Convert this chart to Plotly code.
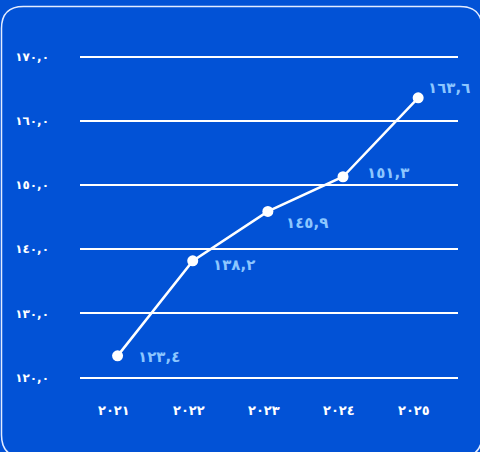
import plotly.graph_objects as go

years = ["2021", "2022", "2023", "2024", "2025"]
values = [123.4, 138.2, 145.9, 151.3, 163.6]
y_ticks = [120, 130, 140, 150, 160, 170]

AR = str.maketrans("0123456789", "٠١٢٣٤٥٦٧٨٩")
def ar(s):
    return s.translate(AR)

year_labels = [ar(y) for y in years]
value_labels = [ar(f"{v:.1f}").replace(".", ",") for v in values]
ytick_text = [ar(f"{v:.1f}").replace(".", ",") for v in y_ticks]

# label placement style (pixel offsets)
label_dx = [18, 18, 16, 22, 8]
label_dy = [-1, -4, -12, 4, 10]

W, H = 480, 452
ML, MR, MT, MB = 80, 22, 40, 56
PW, PH = W - ML - MR, H - MT - MB
BLUE = "#0252D6"
PXU = 6.41
Y170, Y120 = 56.7, 377.7

fig = go.Figure()
fig.add_trace(go.Scatter(
    x=list(range(len(years))), y=values, mode="lines+markers",
    line=dict(color="white", width=2.5),
    marker=dict(color="white", size=11),
    hoverinfo="skip", showlegend=False,
))

for i, (v, t) in enumerate(zip(values, value_labels)):
    fig.add_annotation(x=i, y=v, text=t, showarrow=False, xanchor="left",
                       yanchor="middle", xshift=label_dx[i], yshift=label_dy[i],
                       font=dict(color="#8CC6FF", size=15, family="DejaVu Sans",
                                 weight="bold"))

for i, t in enumerate(year_labels):
    fig.add_annotation(x=i, y=0, xref="x", yref="paper", text=t, showarrow=False,
                       xanchor="center", yanchor="middle", xshift=-4, yshift=-14,
                       font=dict(color="white", size=13, family="DejaVu Sans",
                                 weight="bold"))

def px2paper(x, y):
    return (x - ML) / PW, (H - MB - y) / PH

def rrect(x0, y0, x1, y1, r):
    def P(x, y):
        a, b = px2paper(x, y)
        return f"{a:.5f},{b:.5f}"
    return (f"M {P(x0 + r, y0)} L {P(x1 - r, y0)} "
            f"Q {P(x1, y0)} {P(x1, y0 + r)} L {P(x1, y1 - r)} "
            f"Q {P(x1, y1)} {P(x1 - r, y1)} L {P(x0 + r, y1)} "
            f"Q {P(x0, y1)} {P(x0, y1 - r)} L {P(x0, y0 + r)} "
            f"Q {P(x0, y0)} {P(x0 + r, y0)} Z")

fig.add_shape(type="path", xref="paper", yref="paper",
              path=rrect(1.5, 6.5, 482, 457, 22),
              line=dict(color="#E4ECFF", width=1.5), layer="below")

pb = H - MB
fig.update_layout(
    width=W, height=H,
    margin=dict(l=ML, r=MR, t=MT, b=MB),
    paper_bgcolor=BLUE, plot_bgcolor=BLUE,
    xaxis=dict(range=[-0.5, 4.53], showticklabels=False, showgrid=False,
               zeroline=False, showline=False, ticks="", fixedrange=True),
    yaxis=dict(range=[120 - (pb - Y120) / PXU, 170 + (Y170 - MT) / PXU], tickvals=y_ticks,
               ticktext=ytick_text, showgrid=True, gridcolor="white", gridwidth=2,
               zeroline=False, showline=False, ticks="", ticklabelstandoff=30,
               fixedrange=True,
               tickfont=dict(color="white", size=12, family="DejaVu Sans", weight="bold")),
    font=dict(family="DejaVu Sans"),
)

fig.write_html("out.html", config={"displayModeBar": False},
               post_script="document.body.style.margin='0';document.body.style.background='%s';" % BLUE)
